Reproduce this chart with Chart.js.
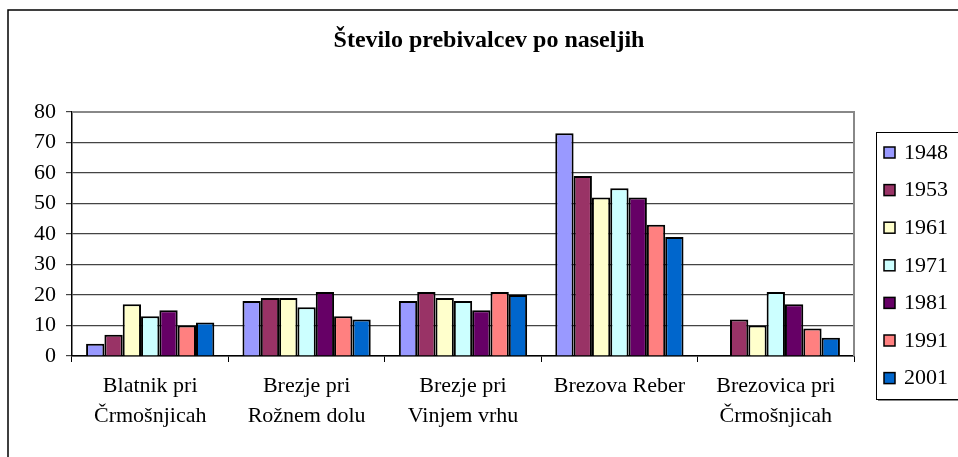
<html>
  <head><meta charset="utf-8"></head>
  <body style="margin:0;background:#fff">
    <script src="https://cdn.jsdelivr.net/npm/chart.js@4/dist/chart.umd.min.js"></script>
    <div style="width:958px;height:457px"><canvas id="myChart" width="958" height="457"></canvas></div>

    <script>
      // data
      let categories = [
        ['Blatnik pri', 'Črmošnjicah'],
        ['Brezje pri', 'Rožnem dolu'],
        ['Brezje pri', 'Vinjem vrhu'],
        'Brezova Reber',
        ['Brezovica pri', 'Črmošnjicah']
      ];
      let years = ['1948', '1953', '1961', '1971', '1981', '1991', '2001'];
      let v1948 = [4, 18, 18, 73, 0];
      let v1953 = [7, 19, 21, 59, 12];
      let v1961 = [17, 19, 19, 52, 10];
      let v1971 = [13, 16, 18, 55, 21];
      let v1981 = [15, 21, 15, 52, 17];
      let v1991 = [10, 13, 21, 43, 9];
      let v2001 = [11, 12, 20, 39, 6];
      let yTicks = [0, 10, 20, 30, 40, 50, 60, 70, 80];

      let colors = ['#9999FF', '#993366', '#FFFFCC', '#CCFFFF', '#660066', '#FF8080', '#0066CC'];
      let values = [v1948, v1953, v1961, v1971, v1981, v1991, v2001];
      let serif = "'Liberation Serif', 'Times New Roman', serif";

      // okvir, naslov, legenda
      let framePlugin = {
        id: 'frame',
        afterDraw(chart) {
          let ctx = chart.ctx;
          let a = chart.chartArea;
          ctx.save();
          // outer frame
          ctx.strokeStyle = '#000';
          ctx.lineWidth = 1.5;
          ctx.beginPath();
          ctx.moveTo(8, 460);
          ctx.lineTo(8, 10);
          ctx.lineTo(960, 10);
          ctx.stroke();
          // plot border top / right
          ctx.strokeStyle = '#888';
          ctx.lineWidth = 2;
          ctx.beginPath();
          ctx.moveTo(a.left, a.top);
          ctx.lineTo(a.right, a.top);
          ctx.lineTo(a.right, a.bottom);
          ctx.stroke();
          // title
          ctx.fillStyle = '#000';
          ctx.font = 'bold 24px ' + serif;
          ctx.textAlign = 'center';
          ctx.textBaseline = 'middle';
          ctx.fillText('Število prebivalcev po naseljih', 489, 41);
          // legend
          let lx = 876, ly = 132, lw = 90, lh = 267;
          ctx.fillStyle = '#888';
          ctx.fillRect(lx + 2, ly + lh, lw, 2);
          ctx.fillStyle = '#fff';
          ctx.fillRect(lx, ly, lw, lh);
          ctx.strokeStyle = '#000';
          ctx.lineWidth = 1;
          ctx.strokeRect(lx + 0.5, ly + 0.5, lw, lh);
          ctx.font = '22px ' + serif;
          ctx.textAlign = 'left';
          chart.data.datasets.forEach((ds, i) => {
            let cy = 152 + i * 37.6;
            ctx.fillStyle = ds.backgroundColor;
            ctx.fillRect(884, cy - 5, 11, 11);
            ctx.lineWidth = 1.5;
            ctx.strokeRect(884, cy - 5, 11, 11);
            ctx.fillStyle = '#000';
            ctx.fillText(ds.label, 904, cy + 1);
          });
          ctx.restore();
        }
      };

      let ctx = document.getElementById('myChart').getContext('2d');
      let myChart = new Chart(ctx, {
        type: 'bar',
        data: {
          labels: categories,
          datasets: years.map((y, i) => ({
            label: y,
            data: values[i],
            backgroundColor: colors[i],
            borderColor: '#000',
            borderWidth: 2,
            categoryPercentage: 0.82,
            barPercentage: 1
          }))
        },
        options: {
          responsive: false,
          animation: false,
          layout: { padding: { left: 0, top: 112, right: 104, bottom: 0 } },
          plugins: { legend: { display: false }, title: { display: false }, tooltip: { enabled: false } },
          scales: {
            x: {
              afterFit(s) { s.height = 101; },
              grid: { offset: true, drawOnChartArea: false, tickLength: 6, color: '#000' },
              border: { color: '#000', width: 1.5 },
              ticks: { color: '#000', padding: 9, font: { family: serif, size: 22, lineHeight: 1.36 } }
            },
            y: {
              min: 0,
              max: 80,
              afterFit(s) { s.width = 72; },
              afterBuildTicks(s) { s.ticks = yTicks.map(v => ({ value: v })); },
              grid: { color: '#444', lineWidth: 1.2, tickLength: 6 },
              border: { color: '#000', width: 1.5 },
              ticks: { color: '#000', padding: 10, font: { family: serif, size: 22 } }
            }
          }
        },
        plugins: [framePlugin]
      });
    </script>
  </body>
</html>
